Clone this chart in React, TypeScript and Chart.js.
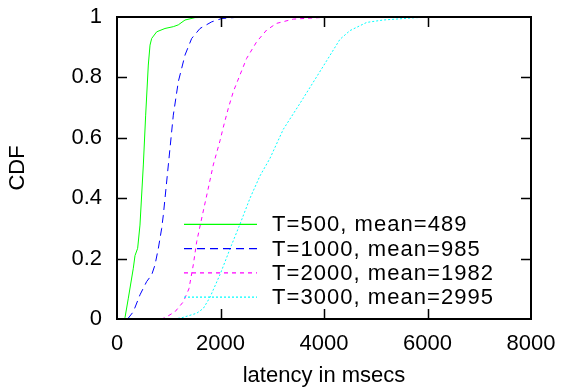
import { useEffect, useRef } from "react";
import { Chart, registerables } from "chart.js";

Chart.register(...registerables);

// ---- data ----
const seriesLabels = [
  "T=500, mean=489",
  "T=1000, mean=985",
  "T=2000, mean=1982",
  "T=3000, mean=2995",
];

const t500X = [140, 155, 219, 315, 348, 399, 444, 509, 554, 605, 638, 670, 767, 927, 1088, 1185, 1314, 1507, 2000, 2200];
const t500Y = [0, 0.005, 0.069, 0.168, 0.21, 0.234, 0.311, 0.51, 0.675, 0.841, 0.907, 0.929, 0.951, 0.962, 0.968, 0.974, 0.99, 0.998, 1, 1];

const t1000X = [200, 219, 315, 444, 573, 670, 734, 799, 863, 895, 992, 1088, 1185, 1314, 1443, 1604, 1830, 2023, 2400, 3000];
const t1000Y = [0, 0.003, 0.024, 0.08, 0.124, 0.146, 0.179, 0.234, 0.3, 0.344, 0.51, 0.675, 0.786, 0.874, 0.929, 0.962, 0.984, 0.995, 1, 1];

const t2000X = [850, 927, 1121, 1282, 1390, 1474, 1540, 1650, 1760, 1860, 1990, 2054, 2151, 2248, 2376, 2505, 2699, 2892, 3085, 3407, 3922, 4500, 5000];
const t2000Y = [0, 0.004, 0.024, 0.057, 0.1, 0.179, 0.256, 0.344, 0.43, 0.51, 0.59, 0.635, 0.698, 0.753, 0.808, 0.863, 0.918, 0.957, 0.979, 0.993, 0.998, 1, 1];

const t3000X = [1100, 1250, 1540, 1668, 1797, 2000, 2183, 2376, 2570, 2763, 2956, 3213, 3536, 3858, 4051, 4308, 4502, 4824, 5140, 5790, 6500, 7900];
const t3000Y = [0, 0.004, 0.019, 0.035, 0.072, 0.151, 0.232, 0.314, 0.4, 0.474, 0.532, 0.628, 0.714, 0.802, 0.855, 0.926, 0.955, 0.982, 0.99, 0.998, 1, 1];

const xTickLabels = ["0", "2000", "4000", "6000", "8000"];
const yTickLabels = ["0", "0.2", "0.4", "0.6", "0.8", "1"];
const xTitle = "latency in msecs";
const yTitle = "CDF";

// ---- styles ----
const FONT = "'Liberation Sans', Arial, Helvetica, sans-serif";
const colors = ["#00ff00", "#0000ff", "#ff00ff", "#00ffff"];
const dashes: number[][] = [[], [8, 5], [4, 4], [2, 2]];

const toPoints = (xs: number[], ys: number[]) => xs.map((x, i) => ({ x, y: ys[i] }));

const framePlugin = {
  id: "gnuplotFrame",
  afterDatasetsDraw(chart: any) {
    const { ctx, chartArea, scales } = chart;
    const { left, right, top, bottom } = chartArea;
    const xs = scales.x;
    const ys = scales.y;
    ctx.save();
    ctx.strokeStyle = "#000";
    ctx.lineWidth = 1.5;
    ctx.setLineDash([]);
    const tl = 10;
    xs.ticks.forEach((t: any) => {
      if (t.value > xs.min && t.value < xs.max) {
        const px = Math.round(xs.getPixelForValue(t.value)) + 0.5;
        ctx.beginPath();
        ctx.moveTo(px, bottom);
        ctx.lineTo(px, bottom - tl);
        ctx.moveTo(px, top);
        ctx.lineTo(px, top + tl);
        ctx.stroke();
      }
    });
    ys.ticks.forEach((t: any) => {
      if (t.value > ys.min && t.value < ys.max) {
        const py = Math.round(ys.getPixelForValue(t.value)) + 0.5;
        ctx.beginPath();
        ctx.moveTo(left, py);
        ctx.lineTo(left + tl, py);
        ctx.moveTo(right, py);
        ctx.lineTo(right - tl, py);
        ctx.stroke();
      }
    });
    ctx.lineWidth = 2;
    ctx.strokeRect(left, top, right - left, bottom - top);
    ctx.restore();

    // legend
    const lx0 = left + 67;
    const lx1 = left + 140;
    const tx = left + 155;
    const y0 = top + 207.3;
    const rowH = 24.3;
    seriesLabels.forEach((label, i) => {
      const y = y0 + i * rowH;
      ctx.save();
      ctx.setLineDash(dashes[i]);
      ctx.lineWidth = 1.2;
      ctx.strokeStyle = colors[i];
      ctx.beginPath();
      ctx.moveTo(lx0, y);
      ctx.lineTo(lx1, y);
      ctx.stroke();
      ctx.restore();
    });
    ctx.save();
    ctx.font = `22px ${FONT}`;
    const refText = seriesLabels[seriesLabels.length - 1];
    const natural = ctx.measureText(refText).width;
    const ls = Math.max(0, (221 - natural) / (refText.length - 1));
    (ctx as any).letterSpacing = `${ls}px`;
    ctx.fillStyle = "#000";
    ctx.textAlign = "left";
    ctx.textBaseline = "middle";
    seriesLabels.forEach((label, i) => {
      ctx.fillText(label, tx, y0 + i * rowH + 1);
    });
    ctx.restore();
  },
};

export default function App() {
  const ref = useRef<HTMLCanvasElement | null>(null);

  useEffect(() => {
    document.body.style.margin = "0";
    const canvas = ref.current;
    if (!canvas) return;
    const allX = [t500X, t1000X, t2000X, t3000X];
    const allY = [t500Y, t1000Y, t2000Y, t3000Y];
    const chart = new Chart(canvas, {
      type: "line",
      data: {
        datasets: seriesLabels.map((label, i) => ({
          label,
          data: toPoints(allX[i], allY[i]),
          borderColor: colors[i],
          backgroundColor: colors[i],
          borderWidth: 1,
          borderDash: dashes[i],
          pointRadius: 0,
          tension: 0,
          fill: false,
        })),
      },
      options: {
        animation: false,
        responsive: false,
        devicePixelRatio: 1,
        layout: { padding: { top: 17, right: 32, left: 0, bottom: 0 } },
        plugins: {
          legend: { display: false },
          tooltip: { enabled: false },
        },
        scales: {
          x: {
            type: "linear",
            min: 0,
            max: 8000,
            grid: { display: false, drawTicks: false },
            border: { display: false },
            ticks: {
              stepSize: 2000,
              padding: 12,
              color: "#000",
              font: { family: FONT, size: 22 },
              maxRotation: 0,
              callback: (v: any, i: number) => xTickLabels[i] ?? String(v),
            },
            title: {
              display: true,
              text: xTitle,
              color: "#000",
              font: { family: FONT, size: 22 },
              padding: { top: 0, bottom: 2 },
            },
            afterFit: (s: any) => {
              s.height = 72;
              s.paddingLeft = 0;
              s.paddingRight = 0;
            },
          },
          y: {
            type: "linear",
            min: 0,
            max: 1,
            grid: { display: false, drawTicks: false },
            border: { display: false },
            ticks: {
              stepSize: 0.2,
              padding: 15,
              color: "#000",
              font: { family: FONT, size: 22 },
              callback: (v: any, i: number) => yTickLabels[i] ?? String(v),
            },
            title: {
              display: true,
              text: yTitle,
              color: "#000",
              font: { family: FONT, size: 22 },
              padding: { top: 4.5, bottom: 0 },
            },
            afterFit: (s: any) => {
              s.width = 117;
              s.paddingTop = 0;
              s.paddingBottom = 0;
            },
          },
        },
      },
      plugins: [framePlugin],
    });
    return () => chart.destroy();
  }, []);

  return (
    <div style={{ position: "absolute", left: 0, top: 0, width: 563, height: 391, background: "#fff" }}>
      <canvas ref={ref} width={563} height={391} style={{ width: 563, height: 391, display: "block" }} />
    </div>
  );
}
